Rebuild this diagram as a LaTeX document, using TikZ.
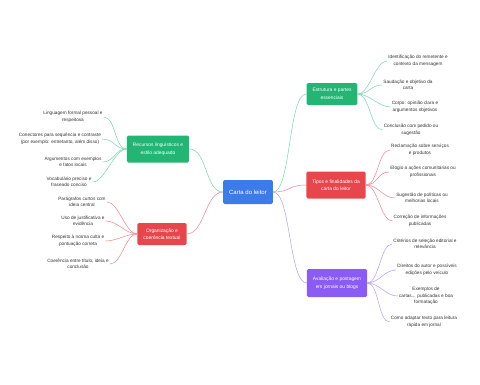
\documentclass[tikz,border=0pt]{standalone}
\usepackage{fontspec}
\setmainfont{Liberation Sans}
\usetikzlibrary{positioning}
\definecolor{mapBlue}{HTML}{3B7CEA}
\definecolor{mapGreen}{HTML}{22B573}
\definecolor{mapRed}{HTML}{E8464D}
\definecolor{mapPurple}{HTML}{8A5CF5}
\definecolor{lineGreen}{HTML}{7FD8B2}
\definecolor{lineRed}{HTML}{F28A96}
\definecolor{linePurple}{HTML}{B8A3F4}
\definecolor{leafText}{HTML}{333333}

\begin{document}
\begin{tikzpicture}[x=1pt,y=-1pt,
  box/.style={rounded corners=1.5pt,text=white,align=center,inner xsep=6pt,inner ysep=4pt,
    minimum height=22pt,font=\fontsize{4.9}{7.5}\selectfont},
  leaf/.style={align=center,inner sep=1pt,text=leafText,font=\fontsize{4.7}{6.5}\selectfont},
  link/.style={line width=0.55pt}]
\useasboundingbox (0,0) rectangle (480,384);

% centre
\node[box,fill=mapBlue,minimum width=48pt,minimum height=24pt,font=\fontsize{6}{7.5}\selectfont] (carta) at (248,192) {Carta do leitor};

% main branches
\node[box,fill=mapGreen] (estrutura) at (332,94) {Estrutura e partes\\essenciais};
\node[box,fill=mapRed,minimum height=27pt] (tipos) at (336,185) {Tipos e finalidades da\\carta do leitor};
\node[box,fill=mapPurple,minimum height=28pt] (avaliacao) at (337,283) {Avaliação e postagem\\em jornais ou blogs};
\node[box,fill=mapGreen,minimum height=27pt] (recursos) at (158,149) {Recursos linguísticos e\\estilo adequado};
\node[box,fill=mapRed] (organizacao) at (162,234) {Organização e\\coerência textual};

% leaves, right
\node[leaf] (e1) at (418,61) {Identificação do remetente e\\contexto da mensagem};
\node[leaf] (e2) at (408,85) {Saudação e objetivo da\\carta};
\node[leaf] (e3) at (415,107) {Corpo: opinião clara e\\argumentos objetivos};
\node[leaf] (e4) at (411,130) {Conclusão com pedido ou\\sugestão};

\node[leaf] (t1) at (420,150) {Reclamação sobre serviços\\e produtos};
\node[leaf] (t2) at (423,172) {Elogio a ações comunitárias ou\\profissionais};
\node[leaf] (t3) at (422,198) {Sugestão de políticas ou\\melhorias locais};
\node[leaf] (t4) at (420,221) {Correção de informações\\publicadas};

\node[leaf] (a1) at (425,244) {Critérios de seleção editorial e\\relevância};
\node[leaf] (a2) at (427,270) {Direitos do autor e possíveis\\edições pelo veículo};
\node[leaf] (a3) at (426,296) {Exemplos de\\cartas... publicadas e boa\\formatação};
\node[leaf] (a4) at (424,322) {Como adaptar texto para leitura\\rápida em jornal};

% leaves, left
\node[leaf] (r1) at (73,117) {Linguagem formal pessoal e\\respeitosa};
\node[leaf] (r2) at (60,139) {Conectores para sequência e contraste\\(por exemplo: entretanto, além disso)};
\node[leaf] (r3) at (73,162) {Argumentos com exemplos\\e fatos locais};
\node[leaf] (r4) at (69,182) {Vocabulário preciso e\\fraseado conciso};

\node[leaf] (o1) at (82,202) {Parágrafos curtos com\\ideia central};
\node[leaf] (o2) at (83,221) {Uso de justificativa e\\evidência};
\node[leaf] (o3) at (78,241) {Respeito à norma culta e\\pontuação correta};
\node[leaf] (o4) at (78,264) {Coerência entre título, ideia e\\conclusão};

% connectors
\draw[link,lineGreen] (carta.east) .. controls +(18,0) and +(-18,0) .. (estrutura.west);
\draw[link,lineRed] (carta.east) .. controls +(18,0) and +(-18,0) .. (tipos.west);
\draw[link,linePurple] (carta.east) .. controls +(18,0) and +(-18,0) .. (avaliacao.west);
\draw[link,lineGreen] (carta.west) .. controls +(-18,0) and +(18,0) .. (recursos.east);
\draw[link,lineRed] (carta.west) .. controls +(-18,0) and +(18,0) .. (organizacao.east);

\foreach \n in {e1,e2,e3,e4}
  \draw[link,lineGreen] (estrutura.east) .. controls +(12,0) and +(-12,0) .. (\n.west);
\foreach \n in {t1,t2,t3,t4}
  \draw[link,lineRed] (tipos.east) .. controls +(12,0) and +(-12,0) .. (\n.west);
\foreach \n in {a1,a2,a3,a4}
  \draw[link,linePurple] (avaliacao.east) .. controls +(12,0) and +(-12,0) .. (\n.west);
\foreach \n in {r1,r2,r3,r4}
  \draw[link,lineGreen] (recursos.west) .. controls +(-12,0) and +(12,0) .. (\n.east);
\foreach \n in {o1,o2,o3,o4}
  \draw[link,lineRed] (organizacao.west) .. controls +(-12,0) and +(12,0) .. (\n.east);
\end{tikzpicture}
\end{document}
